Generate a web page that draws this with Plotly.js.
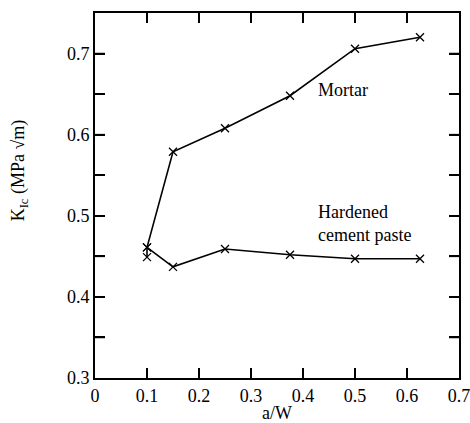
<!DOCTYPE html>
<html>
<head>
<meta charset="utf-8">
<script src="https://cdn.plot.ly/plotly-3.0.1.min.js"></script>
<style>
  html, body { margin: 0; padding: 0; background: #fff; }
  #chart { width: 470px; height: 423px; }
</style>
</head>
<body>
<div id="chart"></div>
<script>
// Fracture toughness K_Ic against notch depth ratio a/W
const mortarAW = [0.1, 0.15, 0.25, 0.375, 0.5, 0.625];
const mortarKIc = [0.461, 0.579, 0.608, 0.648, 0.706, 0.720];

const pasteAW = [0.1, 0.1, 0.15, 0.25, 0.375, 0.5, 0.625];
const pasteKIc = [0.449, 0.461, 0.437, 0.459, 0.452, 0.447, 0.447];

const xTickVals = [0, 0.1, 0.2, 0.3, 0.4, 0.5, 0.6, 0.7];
const xTickText = ['0', '0.1', '0.2', '0.3', '0.4', '0.5', '0.6', '0.7'];
const yTickVals = [0.3, 0.35, 0.4, 0.45, 0.5, 0.55, 0.6, 0.65, 0.7];
const yTickText = ['0.3', '', '0.4', '', '0.5', '', '0.6', '', '0.7'];

const X_RANGE = [0, 0.7];
const Y_RANGE = [0.3, 0.75];

const FONT = 'Liberation Serif';
const TICK_PX = 10;

function markerStyle() {
  return { symbol: 'x-thin', size: 8, color: 'black', line: { width: 1.3, color: 'black' } };
}

const traces = [
  {
    x: mortarAW, y: mortarKIc, name: 'Mortar',
    mode: 'lines+markers', type: 'scatter',
    line: { color: 'black', width: 1.6 }, marker: markerStyle()
  },
  {
    x: pasteAW, y: pasteKIc, name: 'Hardened cement paste',
    mode: 'lines+markers', type: 'scatter',
    line: { color: 'black', width: 1.6 }, marker: markerStyle()
  }
];

// Inward tick marks on all four sides of the frame, as pixel-sized line
// shapes anchored at the tick values on each axis.
const innerX = xTickVals.filter(v => v > X_RANGE[0] && v < X_RANGE[1]);
const innerY = yTickVals.filter(v => v > Y_RANGE[0] && v < Y_RANGE[1]);
const tickLine = { color: 'black', width: 1.6 };
const tickShapes = [];
innerX.forEach(v => {
  tickShapes.push({ type: 'line', xref: 'x', yref: 'y', ysizemode: 'pixel', yanchor: Y_RANGE[0],
    x0: v, x1: v, y0: 0, y1: TICK_PX, line: tickLine });
  tickShapes.push({ type: 'line', xref: 'x', yref: 'y', ysizemode: 'pixel', yanchor: Y_RANGE[1],
    x0: v, x1: v, y0: 0, y1: -TICK_PX, line: tickLine });
});
innerY.forEach(v => {
  tickShapes.push({ type: 'line', xref: 'x', yref: 'y', xsizemode: 'pixel', xanchor: X_RANGE[0],
    x0: 0, x1: TICK_PX, y0: v, y1: v, line: tickLine });
  tickShapes.push({ type: 'line', xref: 'x', yref: 'y', xsizemode: 'pixel', xanchor: X_RANGE[1],
    x0: 0, x1: -TICK_PX, y0: v, y1: v, line: tickLine });
});

const layout = {
  width: 470, height: 423,
  margin: { l: 95, r: 11, t: 13, b: 45 },
  showlegend: false,
  xaxis: {
    range: X_RANGE,
    tickmode: 'array', tickvals: xTickVals, ticktext: xTickText,
    showgrid: false, zeroline: false,
    showline: true, linecolor: 'black', linewidth: 2, mirror: 'allticks',
    ticks: 'inside', ticklen: TICK_PX, tickwidth: 2, tickcolor: 'black',
    tickfont: { family: FONT, size: 18, color: 'black' },
    ticklabeloverflow: 'allow',
    title: { text: 'a/W', font: { family: FONT, size: 18, color: 'black' }, standoff: 2 }
  },
  yaxis: {
    range: Y_RANGE,
    tickmode: 'array', tickvals: yTickVals, ticktext: yTickText,
    showgrid: false, zeroline: false,
    showline: true, linecolor: 'black', linewidth: 2, mirror: 'allticks',
    ticks: 'inside', ticklen: TICK_PX, tickwidth: 2, tickcolor: 'black',
    tickfont: { family: FONT, size: 18, color: 'black' }
  },
  shapes: tickShapes,
  annotations: [
    {
      xref: 'paper', yref: 'paper', x: -0.205, y: 0.57, xanchor: 'center', yanchor: 'middle',
      text: 'K<sub>Ic</sub> (MPa √m)', textangle: -90, showarrow: false,
      font: { family: FONT, size: 18, color: 'black' }
    },
    {
      xref: 'x', yref: 'y', x: 0.425, y: 0.655, xanchor: 'left',
      text: 'Mortar', showarrow: false,
      font: { family: FONT, size: 18, color: 'black' }
    },
    {
      xref: 'x', yref: 'y', x: 0.425, y: 0.491, xanchor: 'left', align: 'left',
      text: 'Hardened<br>cement paste', showarrow: false,
      font: { family: FONT, size: 18, color: 'black' }
    }
  ]
};

Plotly.newPlot('chart', traces, layout, { displayModeBar: false });
</script>
</body>
</html>
